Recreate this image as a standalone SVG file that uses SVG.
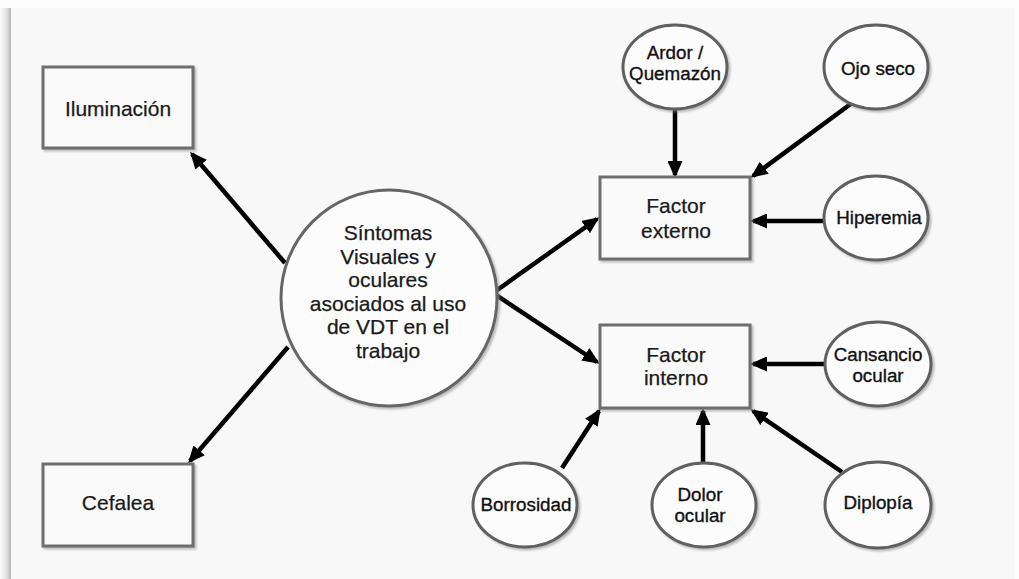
<svg xmlns="http://www.w3.org/2000/svg" width="1019" height="579" viewBox="0 0 1019 579">
<defs>
<linearGradient id="lshadow" x1="0" y1="0" x2="1" y2="0">
<stop offset="0" stop-color="#fdfdfd"/>
<stop offset="0.6" stop-color="#e0e0e0"/>
<stop offset="1" stop-color="#b8b8b8"/>
</linearGradient>
<filter id="sh" x="-20%" y="-20%" width="140%" height="140%">
<feDropShadow dx="2" dy="2" stdDeviation="1.2" flood-color="#888" flood-opacity="0.55"/>
</filter>
<marker id="ah" markerUnits="userSpaceOnUse" markerWidth="17" markerHeight="15" refX="14" refY="7.5" orient="auto">
<path d="M0,0 L17,7.5 L0,15 z" fill="#000"/>
</marker>
<style>
.box{fill:#fafafa;stroke:#6e6e6e;stroke-width:3;filter:url(#sh)}
.ell{fill:#fcfcfc;stroke:#606060;stroke-width:3;filter:url(#sh)}
.big{font-family:"Liberation Sans",Arial,sans-serif;font-size:21px;fill:#1a1a1a;stroke:#1a1a1a;stroke-width:0.25;text-anchor:middle}
.sm{font-family:"Liberation Sans",Arial,sans-serif;font-size:18.8px;fill:#111;stroke:#111;stroke-width:0.35;text-anchor:middle}
.con{stroke:#000;stroke-width:4.5;fill:none;marker-end:url(#ah)}
</style>
</defs>
<rect x="0" y="0" width="1019" height="579" fill="#fdfdfd"/>
<rect x="0" y="8" width="11" height="571" fill="url(#lshadow)"/>
<rect x="11" y="8" width="1003" height="571" fill="#f8f8f8"/>

<g id="connectors">
<line class="con" x1="285" y1="263" x2="192" y2="154"/>
<line class="con" x1="288" y1="347" x2="190" y2="461"/>
<line class="con" x1="493" y1="293" x2="597" y2="219"/>
<line class="con" x1="493" y1="293" x2="597" y2="362"/>
<line class="con" x1="675" y1="110" x2="675" y2="175"/>
<line class="con" x1="852" y1="103" x2="753" y2="176"/>
<line class="con" x1="824" y1="221" x2="753" y2="221"/>
<line class="con" x1="825" y1="364" x2="753" y2="364"/>
<line class="con" x1="562" y1="468" x2="599" y2="411"/>
<line class="con" x1="703" y1="463" x2="703" y2="411"/>
<line class="con" x1="842" y1="472" x2="753" y2="411"/>
</g>

<g id="iluminacion">
<rect class="box" x="43" y="67" width="150" height="81"/>
<text class="big" x="118" y="116">Iluminación</text>
</g>
<g id="cefalea">
<rect class="box" x="43" y="464" width="150" height="82"/>
<text class="big" x="118" y="510">Cefalea</text>
</g>
<g id="sintomas">
<circle cx="389" cy="298" r="108" fill="#fcfcfc" stroke="#666" stroke-width="3" filter="url(#sh)"/>
<text class="big" x="388" y="240">Síntomas</text>
<text class="big" x="388" y="263.5">Visuales y</text>
<text class="big" x="388" y="287">oculares</text>
<text class="big" x="388" y="310.5">asociados al uso</text>
<text class="big" x="388" y="334">de VDT en el</text>
<text class="big" x="388" y="357.5">trabajo</text>
</g>
<g id="factor-externo">
<rect class="box" x="600" y="177" width="150" height="82"/>
<text class="big" x="676" y="213">Factor</text>
<text class="big" x="676" y="238">externo</text>
</g>
<g id="factor-interno">
<rect class="box" x="600" y="325" width="150" height="83"/>
<text class="big" x="676" y="362">Factor</text>
<text class="big" x="676" y="385">interno</text>
</g>
<g id="ardor">
<ellipse class="ell" cx="675" cy="67" rx="52" ry="42"/>
<text class="sm" x="675" y="59">Ardor /</text>
<text class="sm" x="675" y="80">Quemazón</text>
</g>
<g id="ojo-seco">
<ellipse class="ell" cx="876" cy="67" rx="52" ry="42"/>
<text class="sm" x="878" y="75">Ojo seco</text>
</g>
<g id="hiperemia">
<ellipse class="ell" cx="876" cy="218" rx="52" ry="42"/>
<text class="sm" x="879" y="224">Hiperemia</text>
</g>
<g id="cansancio">
<ellipse class="ell" cx="878" cy="364" rx="53" ry="42"/>
<text class="sm" x="878" y="361">Cansancio</text>
<text class="sm" x="878" y="382">ocular</text>
</g>
<g id="borrosidad">
<ellipse class="ell" cx="525" cy="505" rx="52" ry="42"/>
<text class="sm" x="526" y="511">Borrosidad</text>
</g>
<g id="dolor">
<ellipse class="ell" cx="704" cy="505" rx="52" ry="42"/>
<text class="sm" x="700" y="501">Dolor</text>
<text class="sm" x="700" y="522">ocular</text>
</g>
<g id="diplopia">
<ellipse class="ell" cx="878" cy="505" rx="53" ry="43"/>
<text class="sm" x="878" y="509">Diplopía</text>
</g>
</svg>
